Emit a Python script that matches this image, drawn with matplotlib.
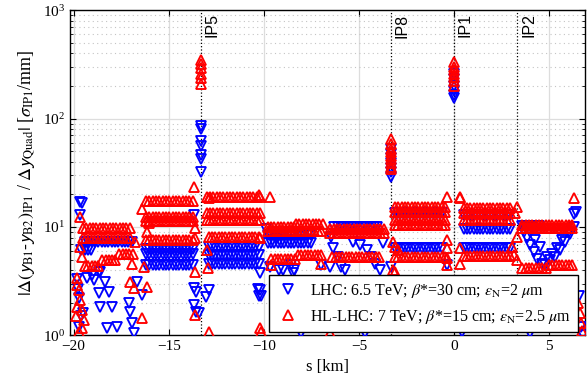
import numpy as np
import matplotlib
matplotlib.use('Agg')
import matplotlib.pyplot as plt
import matplotlib.transforms as mtransforms
from matplotlib.ticker import LogLocator, NullFormatter

# spacing of the arc quadrupoles [km]
ARC_STEP = 0.175

ip_names = ['IP5', 'IP8', 'IP1', 'IP2']
ip_s = [-13.33, -3.33, 0.0, 3.33]

# --- LHC (blue) -------------------------------------------------------
# flat bands in the arcs: start [km], end [km], level
lhc_band_start = [-19.4, -19.6, -16.2, -16.2, -16.2, -12.9, -12.9, -12.9,
                  -9.8, -9.8, -6.3, -3.1, -3.1, 0.5, 0.5, 0.5, 3.6]
lhc_band_end = [-16.8, -19.0, -13.7, -13.7, -13.7, -10.2, -10.2, -10.2,
                -7.5, -7.5, -4.0, -0.5, -0.5, 3.0, 3.0, 3.0, 4.6]
lhc_band_level = [7.3, 6.1, 6.3, 5.6, 4.5, 6.6, 5.5, 4.6,
                  8.5, 7.2, 10.1, 13.6, 6.4, 13.0, 9.6, 6.4, 10.3]

# single quads off the bands
lhc_pt_s = [-19.66, -19.66, -19.55, -19.75, -19.7, -19.6, -19.5, -19.8, -19.7,
            -19.29, -19.04, -18.95, -18.67, -18.6, -18.34, -18.69, -18.16,
            -18.6, -17.98, -18.25, -17.72, -17.1, -17.02, -16.93, -16.84,
            -16.67, -16.4,
            -13.66, -13.57, -13.66, -13.57, -13.4, -12.87, -13.04, -13.65,
            -10.3, -10.15, -10.2, -10.2, -10.25,
            -8.56, -8.39, -9.18, -9.7, -9.0, -8.48, -6.98, -6.54, -9.5, -9.3,
            -9.9, -8.03, -4.69,
            -6.37, -6.1, -5.92, -5.75, -5.31, -4.96, -4.6, -4.34, -4.17, -3.9,
            -3.73, -6.45, -3.29, -0.35, 0.4, 4.0,
            3.66, 3.83, 4.0, 4.18, 4.36, 4.63, 4.8, 5.06, 5.33, 5.59, 5.85,
            6.12, 6.29, 3.75, 4.0, 4.27, 4.53, 4.89, 5.15, 5.42, 5.68, 6.03,
            6.29, 6.4, 6.55, 6.7, 6.8]
lhc_pt_val = [17.1, 12.9, 16.6, 2.7, 2.2, 1.5, 1.6, 3.3, 1.2,
              3.36, 3.6, 3.25, 3.87, 3.87, 3.13, 2.45, 2.53,
              1.84, 1.84, 1.17, 1.2, 1.98, 1.66, 1.3, 1.05,
              3.13, 2.36,
              2.72, 2.53, 1.9, 1.66, 1.6, 2.62, 2.28, 12.9,
              2.7, 2.3, 3.8, 2.6, 2.3,
              4.46, 4.0, 4.0, 4.3, 4.0, 3.74, 4.46, 4.3, 9.0, 8.0,
              9.6, 1.05, 1.05,
              6.35, 5.33, 4.3, 4.0, 7.3, 6.8, 6.1, 5.3, 4.6, 4.0,
              7.1, 8.1, 4.3, 4.5, 1.08, 1.05,
              9.0, 7.9, 6.8, 5.9, 5.1, 4.6, 4.46, 5.0, 5.3, 6.1, 7.3,
              8.7, 10.1, 10.1, 9.0, 7.6, 6.6, 5.3, 5.7, 6.35, 7.6, 9.0,
              13.3, 13.8, 2.3, 1.2, 1.0]

# triplet peaks next to the experiments
lhc_ip5_val = [85, 80, 62, 56, 46, 42, 32]
lhc_ip8_val = [52, 47, 43, 39, 35, 32, 29]
lhc_ip1_val = [260, 230, 200, 180, 165, 155]

# --- HL-LHC (red) -----------------------------------------------------
hl_band_start = [-19.5, -19.5, -19.4, -18.5, -17.6,
                 -16.2, -16.2, -16.2, -16.2,
                 -13.0, -13.0, -13.0, -12.9,
                 -9.8, -8.3, -9.8, -9.6, -8.2,
                 -6.5, -6.5, -6.4,
                 -3.1, -3.1, -3.1, -3.1, -3.1,
                 0.5, 0.5, 0.5, 0.5,
                 3.6, 3.6, 3.6, 5.0]
hl_band_end = [-16.9, -17.0, -18.6, -17.7, -16.9,
               -13.7, -13.7, -13.7, -13.7,
               -10.1, -10.1, -10.1, -10.2,
               -8.4, -6.9, -6.9, -8.3, -6.9,
               -3.7, -3.7, -3.9,
               -0.4, -0.4, -0.4, -0.4, -0.4,
               3.1, 3.1, 3.1, 3.1,
               6.3, 6.3, 4.9, 6.3]
hl_band_level = [9.9, 7.9, 4.4, 5.0, 5.6,
                 17.5, 12.3, 11.3, 7.6,
                 19.0, 13.4, 11.6, 8.1,
                 10.0, 10.7, 9.2, 5.1, 5.5,
                 9.6, 8.8, 5.3,
                 15.3, 13.9, 11.6, 10.4, 5.3,
                 15.0, 13.5, 11.5, 5.4,
                 10.5, 9.7, 4.2, 4.5]

hl_pt_s = [-19.83, -19.74, -19.66, -19.83, -19.57, -19.48, -19.74, -19.57,
           -19.66, -19.57, -19.66, -19.85, -19.9,
           -17.02, -16.84, -16.93, -16.76, -16.4, -16.14, -16.32, -16.14,
           -16.05, -16.4,
           -13.68, -13.6, -13.6, -13.6, -13.6, -12.9, -12.87, -13.0, -12.95,
           -10.23, -9.7, -10.14, -10.2, -10.2,
           -9.6, -6.98, -6.54,
           -3.2, -3.1, -2.95, -3.2, -3.1,
           -0.39, 0.32, 0.32, -0.39, -0.39, -0.39, -0.39, 0.32, 0.32,
           3.31, 3.2, 3.31, 3.04, 3.13, 3.31,
           6.29, 6.5, 6.6, 6.7, 6.75]
hl_pt_val = [3.36, 2.62, 2.12, 1.84, 1.72, 1.39, 1.08, 1.17,
             6.6, 5.3, 12.4, 2.9, 1.5,
             3.13, 2.72, 4.6, 7.3, 1.44, 2.82, 4.3, 9.0,
             10.8, 14.8,
             23.6, 9.7, 7.9, 3.87, 1.55, 18.5, 1.08, 6.1, 4.2,
             19.6, 19.0, 1.08, 7.9, 1.17,
             4.46, 4.6, 1.05,
             7.3, 6.6, 6.1, 4.0, 3.87,
             19.0, 19.0, 18.4, 7.6, 6.35, 5.15, 4.46, 6.35, 4.6,
             15.3, 13.5, 8.1, 6.6, 5.5, 5.0,
             18.4, 2.0, 1.6, 1.3, 1.1]

hl_ip5_val = [350, 320, 290, 260, 235, 210]
hl_ip8_val = [65, 58, 53, 49, 45, 42, 39, 36, 34]
hl_ip1_val = [330, 300, 280, 260, 240, 220, 200]

lhc_label = r'LHC: 6.5 TeV; $\beta$*=30 cm; $\epsilon_{\rm N}$=2 $\mu$m'
hl_label = r'HL-LHC: 7 TeV; $\beta$*=15 cm; $\epsilon_{\rm N}$=2.5 $\mu$m'


def collect(starts, ends, levels, pt_s, pt_val, ip5, ip8, ip1):
    s_all, v_all = [], []
    for a, b, lvl in zip(starts, ends, levels):
        s = np.arange(a, b + 1e-6, ARC_STEP)
        s_all.append(s)
        v_all.append(np.full(len(s), lvl))
    s_all.append(np.array(pt_s))
    v_all.append(np.array(pt_val))
    for pos, vals in zip([ip_s[0], ip_s[1], ip_s[2]], [ip5, ip8, ip1]):
        s_all.append(np.full(len(vals), pos))
        v_all.append(np.array(vals, dtype=float))
    return np.concatenate(s_all), np.concatenate(v_all)


def main():
    plt.rcParams['font.family'] = ['Liberation Serif', 'DejaVu Serif']
    plt.rcParams['mathtext.fontset'] = 'stix'

    fig = plt.figure(figsize=(5.87, 3.91), dpi=100)
    ax = fig.add_axes([0.119, 0.142, 0.878, 0.832])

    lhc_s, lhc_v = collect(lhc_band_start, lhc_band_end, lhc_band_level,
                           lhc_pt_s, lhc_pt_val, lhc_ip5_val, lhc_ip8_val, lhc_ip1_val)
    hl_s, hl_v = collect(hl_band_start, hl_band_end, hl_band_level,
                         hl_pt_s, hl_pt_val, hl_ip5_val, hl_ip8_val, hl_ip1_val)

    ax.plot(lhc_s, lhc_v, 'v', color='#0000ff', mfc='none', ms=7.8, mew=1.35,
            label=lhc_label, zorder=3)
    ax.plot(hl_s, hl_v, '^', color='#ff0000', mfc='none', ms=7.8, mew=1.35,
            label=hl_label, zorder=4)

    trans = mtransforms.blended_transform_factory(ax.transData, ax.transAxes)
    for name, s in zip(ip_names, ip_s):
        ax.axvline(s, color='k', ls=':', lw=0.9, zorder=2)
        ax.text(s + 0.2, 0.99, name, rotation=90, ha='left', va='top',
                transform=trans, fontsize=11.5, family='Liberation Sans')

    ax.set_yscale('log')
    ax.set_ylim(1, 1000)
    ax.set_xlim(-20.2, 6.9)
    ax.set_xticks([-20, -15, -10, -5, 0, 5])
    ax.yaxis.set_minor_locator(LogLocator(base=10, subs=np.arange(2, 10)))
    ax.yaxis.set_minor_formatter(NullFormatter())

    ax.set_axisbelow(True)
    ax.grid(which='major', color='#dddddd', lw=0.9, ls='-')
    ax.grid(which='minor', axis='y', color='#c4c4c4', lw=0.8, ls=(0, (1, 3)))
    ax.tick_params(which='both', direction='in', top=True, right=True, labelsize=11)
    ax.tick_params(which='major', length=4)
    ax.tick_params(which='minor', length=2.5)
    for sp in ax.spines.values():
        sp.set_linewidth(1.0)

    ax.set_xlabel('s [km]', fontsize=12)
    ax.set_ylabel(r'$|\Delta(\mathsf{y}_{\rm B1}$-$\mathsf{y}_{\rm B2})_{\rm IP1}$ / '
                  r'$\Delta\mathsf{y}_{\rm Quad}|$ [$\sigma_{\rm IP1}$/mm]', fontsize=13)

    leg = ax.legend(loc='lower right', bbox_to_anchor=(0.985, 0.01), borderaxespad=0,
                    fancybox=False, edgecolor='k', framealpha=1, fontsize=11.5,
                    handlelength=1.6, handletextpad=0.6, borderpad=0.4,
                    labelspacing=0.5)
    leg.get_frame().set_linewidth(1.0)

    fig.savefig('out.png', dpi=100)


if __name__ == '__main__':
    main()
